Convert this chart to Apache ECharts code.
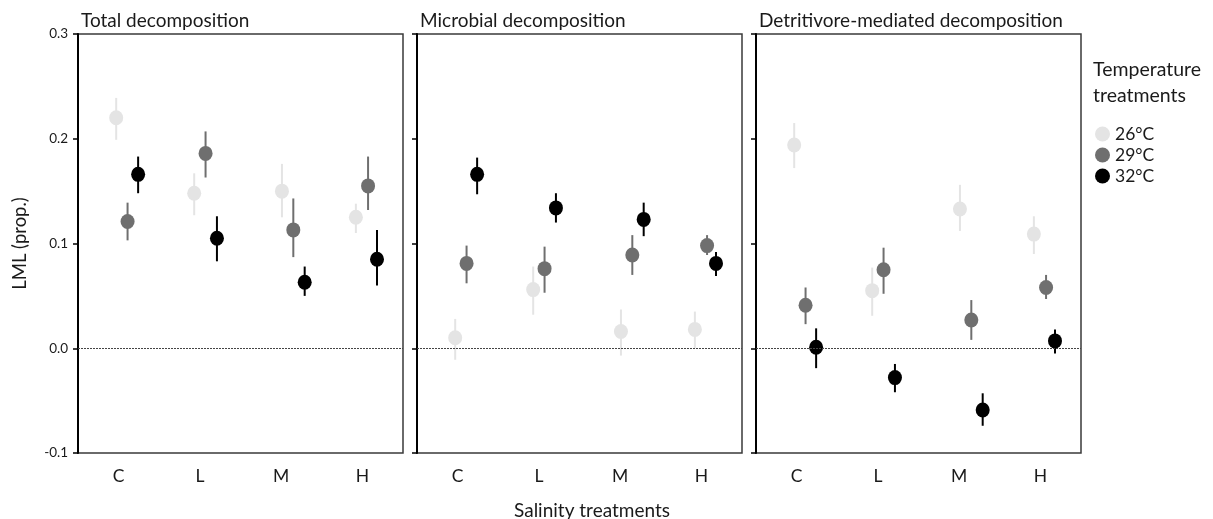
<!DOCTYPE html>
<html>
<head>
<meta charset="utf-8">
<script src="https://cdn.jsdelivr.net/npm/echarts@6/dist/echarts.min.js"></script>
<style>
    html, body { margin: 0; padding: 0; background: #ffffff; }
    #main { width: 1213px; height: 519px; }
</style>
</head>
<body>
<div id="main"></div>
<script>
    // salinity treatments
    var categories = ['C', 'L', 'M', 'H'];
    var temps = ['26°C', '29°C', '32°C'];
    var panelTitles = ['Total decomposition', 'Microbial decomposition', 'Detritivore-mediated decomposition'];
    var yTicks = [-0.1, 0.0, 0.1, 0.2, 0.3];

    // x position of each point (category units, slightly dodged/jittered)
    var x26 = [0.47, 1.43, 2.51, 3.42];
    var x29 = [0.61, 1.57, 2.65, 3.57];
    var x32 = [0.74, 1.71, 2.79, 3.68];

    // [mean, lower, upper] per salinity treatment
    var total26 = [[0.220, 0.199, 0.239], [0.148, 0.127, 0.167], [0.150, 0.125, 0.176], [0.125, 0.110, 0.138]];
    var total29 = [[0.121, 0.103, 0.139], [0.186, 0.163, 0.207], [0.113, 0.087, 0.143], [0.155, 0.132, 0.183]];
    var total32 = [[0.166, 0.148, 0.183], [0.105, 0.083, 0.126], [0.063, 0.050, 0.078], [0.085, 0.060, 0.113]];

    var micro26 = [[0.010, -0.011, 0.028], [0.056, 0.032, 0.078], [0.016, -0.007, 0.037], [0.018, 0.000, 0.035]];
    var micro29 = [[0.081, 0.062, 0.098], [0.076, 0.053, 0.097], [0.089, 0.070, 0.108], [0.098, 0.089, 0.108]];
    var micro32 = [[0.166, 0.147, 0.182], [0.134, 0.120, 0.148], [0.123, 0.107, 0.139], [0.081, 0.069, 0.092]];

    var detri26 = [[0.194, 0.172, 0.215], [0.055, 0.031, 0.077], [0.133, 0.112, 0.156], [0.109, 0.090, 0.126]];
    var detri29 = [[0.041, 0.023, 0.058], [0.075, 0.052, 0.096], [0.027, 0.008, 0.046], [0.058, 0.047, 0.070]];
    var detri32 = [[0.001, -0.019, 0.019], [-0.028, -0.042, -0.015], [-0.059, -0.074, -0.043], [0.007, -0.005, 0.018]];

    var panelData = [[total26, total29, total32], [micro26, micro29, micro32], [detri26, detri29, detri32]];
    var xPos = [x26, x29, x32];
    var colors = ['#e4e4e4', '#6f6f6f', '#000000'];
    var FONT = 'Lato, "Open Sans", sans-serif';
    var TXT = '#1a1a1a';

    var gridLefts = [78, 417, 756];
    var grids = [], xAxes = [], yAxes = [], series = [], titles = [];

    for (var p = 0; p < 3; p++) {
        grids.push({
            left: gridLefts[p], top: 34, width: 325, height: 419,
            show: true, borderColor: '#3a3a3a', borderWidth: 1.5
        });
        titles.push({
            text: panelTitles[p], left: gridLefts[p] - 2, top: 6,
            textStyle: { fontFamily: FONT, fontSize: 19, fontWeight: 'normal', color: TXT }
        });
    }
    // category axes (labels only)
    for (var p = 0; p < 3; p++) {
        xAxes.push({
            type: 'category', gridIndex: p, data: categories, boundaryGap: true,
            axisLine: { show: false }, axisTick: { show: false }, splitLine: { show: false },
            axisLabel: { margin: 14, fontFamily: FONT, fontSize: 17.5, color: TXT }
        });
    }
    // value axes for placing points
    for (var p = 0; p < 3; p++) {
        xAxes.push({ type: 'value', gridIndex: p, min: 0, max: 4, show: false });
    }
    for (var p = 0; p < 3; p++) {
        yAxes.push({
            type: 'value', gridIndex: p, min: yTicks[0], max: yTicks[yTicks.length - 1], interval: 0.1,
            name: p === 0 ? 'LML (prop.)' : '', nameLocation: 'middle', nameGap: 48, nameRotate: 90,
            nameTextStyle: { fontFamily: FONT, fontSize: 18.5, color: TXT },
            axisLine: { show: true, lineStyle: { color: '#000', width: 2 } },
            axisTick: { show: true, length: 5, lineStyle: { color: '#000', width: 1.5 } },
            splitLine: { show: false },
            axisLabel: {
                show: p === 0, margin: 10, fontFamily: FONT, fontSize: 13.5, color: TXT,
                formatter: function (v) { return v.toFixed(1); }
            }
        });
    }

    for (var p = 0; p < 3; p++) {
        for (var t = 0; t < 3; t++) {
            var rows = panelData[p][t];
            var pts = [], bars = [];
            for (var i = 0; i < rows.length; i++) {
                pts.push([xPos[t][i], rows[i][0]]);
                bars.push([xPos[t][i], rows[i][1], rows[i][2]]);
            }
            (function (col) {
                // error bars (unnamed so the legend uses the points)
                series.push({
                    type: 'custom', xAxisIndex: 3 + p, yAxisIndex: p, z: 2,
                    encode: { x: 0, y: [1, 2] }, data: bars, silent: true,
                    renderItem: function (params, api) {
                        var x = api.value(0);
                        var a = api.coord([x, api.value(1)]);
                        var b = api.coord([x, api.value(2)]);
                        return {
                            type: 'line',
                            shape: { x1: a[0], y1: a[1], x2: b[0], y2: b[1] },
                            style: { stroke: col, lineWidth: 2 }
                        };
                    }
                });
            })(colors[t]);
            var sc = {
                type: 'scatter', name: temps[t], xAxisIndex: 3 + p, yAxisIndex: p, z: 3,
                data: pts, symbol: 'circle', symbolSize: [14, 15],
                itemStyle: { color: colors[t], opacity: 1 }
            };
            if (t === 0) {
                sc.markLine = {
                    silent: true, symbol: 'none', label: { show: false },
                    lineStyle: { color: '#444', type: [2, 1], width: 1 },
                    data: [{ yAxis: 0 }]
                };
            }
            series.push(sc);
        }
    }

    titles.push({
        text: 'Salinity treatments', left: 587, top: 496, textAlign: 'center',
        textStyle: { fontFamily: FONT, fontSize: 19, fontWeight: 'normal', color: TXT }
    });
    titles.push({
        text: 'Temperature\ntreatments', left: 1088, top: 52,
        textStyle: { fontFamily: FONT, fontSize: 19.5, fontWeight: 'normal', color: TXT, lineHeight: 26 }
    });

    var chart = echarts.init(document.getElementById('main'));
    chart.setOption({
        animation: false,
        backgroundColor: '#ffffff',
        title: titles,
        legend: {
            data: temps.map(function (n) { return { name: n, icon: 'circle' }; }),
            orient: 'vertical', left: 1090, top: 120, itemWidth: 15, itemHeight: 15, itemGap: 3, padding: 5,
            textStyle: { fontFamily: FONT, fontSize: 17.5, color: TXT },
            selectedMode: false
        },
        grid: grids,
        xAxis: xAxes,
        yAxis: yAxes,
        series: series
    });
</script>
</body>
</html>
